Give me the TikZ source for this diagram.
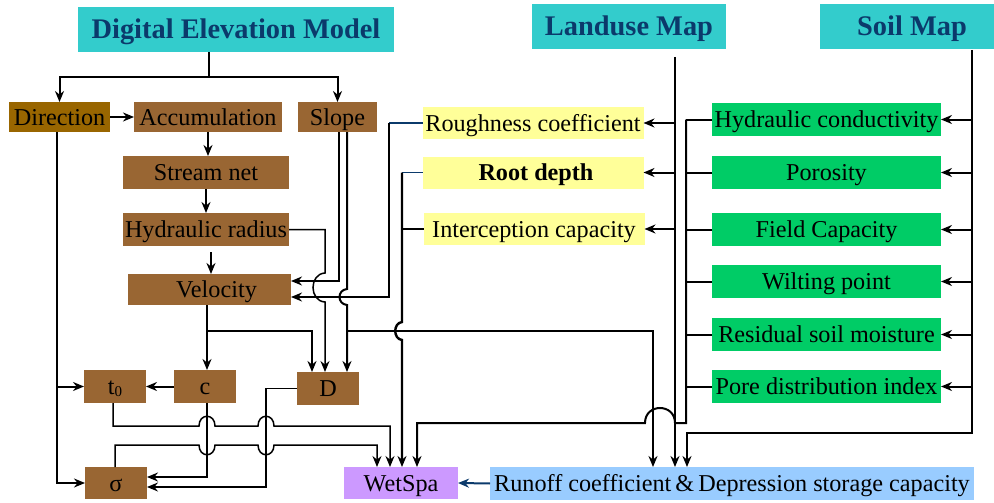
\documentclass[tikz,border=0pt]{standalone}
\usepackage{fontspec}
\setmainfont{Liberation Serif}
\usetikzlibrary{arrows.meta,calc}
\definecolor{teal1}{HTML}{33CCCC}
\definecolor{navy}{HTML}{0B3A6B}
\definecolor{brownA}{HTML}{996633}
\definecolor{brownB}{HTML}{996600}
\definecolor{yel}{HTML}{FFFF99}
\definecolor{grn}{HTML}{00CC66}
\definecolor{pur}{HTML}{CC99FF}
\definecolor{lblue}{HTML}{99CCFF}
\begin{document}
\begin{tikzpicture}[x=1pt,y=-1pt,
  box/.style={rectangle, inner sep=0pt, outer sep=0pt, text=black,
    font=\fontsize{24.2}{25}\selectfont, text height=16.5pt, text depth=0pt},
  ttl/.style={box, fill=teal1, text=navy, font=\fontsize{28.4}{30}\selectfont\bfseries,
    text height=19pt, minimum height=45pt},
  brn/.style={box, fill=brownA},
  yb/.style={box, fill=yel, minimum width=221pt, minimum height=32pt},
  gb/.style={box, fill=grn, minimum width=229pt, minimum height=33pt},
  ln/.style={line width=2pt},
  thn/.style={line width=1.5pt},
  arr/.style={ln, -{Stealth[length=11pt,width=9pt]}},
  arrT/.style={thn, -{Stealth[length=11pt,width=9pt]}},
]
\useasboundingbox (0,0) rectangle (994,503);
% ---------- nodes ----------
\node[ttl, minimum width=316pt] (dem) at (236,29.5) {Digital Elevation Model};
\node[ttl, minimum width=194pt] (land) at (629,26.5) {Landuse Map};
\node[ttl, minimum width=174pt] (soil) at (907,26.5) {\hspace{10pt}Soil Map};
\node[box, fill=brownB, minimum width=101pt, minimum height=30pt] (dir) at (59.5,117) {Direction};
\node[brn, minimum width=148pt, minimum height=30pt] (acc) at (208,117) {Accumulation};
\node[brn, minimum width=79pt, minimum height=30pt] (slope) at (337.5,117) {Slope};
\node[brn, minimum width=166pt, minimum height=33pt] (stream) at (206,172.5) {Stream net};
\node[brn, minimum width=166pt, minimum height=33pt] (hyd) at (206,229.5) {Hydraulic radius};
\node[brn, minimum width=163pt, minimum height=31pt] (vel) at (209.5,289.5) {\hspace{14pt}Velocity};
\node[brn, minimum width=62pt, minimum height=33pt] (t0) at (115,386.5) {t{\fontsize{15}{15}\selectfont\raisebox{-1.5pt}{0}}};
\node[brn, minimum width=62pt, minimum height=33pt] (c) at (205,386.5) {c};
\node[brn, minimum width=62pt, minimum height=33pt] (D) at (328,388.5) {D};
\node[brn, minimum width=62pt, minimum height=32pt] (sigma) at (116,483) {σ};
\node[box, fill=pur, minimum width=114pt, minimum height=32pt] (wet) at (401,483) {WetSpa};
\node[box, fill=lblue, minimum width=484pt, minimum height=33pt] (run) at (732,483.5) {Runoff coefficient\,\&\,Depression storage capacity};
\node[yb] (rough) at (533,123) {Roughness coefficient};
\node[yb] (root) at (533,172.5) {\hspace{6pt}\bfseries Root depth};
\node[yb] (inter) at (534,229) {Interception capacity};
\node[gb] (hc) at (826.5,119.5) {Hydraulic conductivity};
\node[gb] (por) at (826.5,172.5) {Porosity};
\node[gb] (fc) at (826.5,229.5) {Field Capacity};
\node[gb] (wp) at (826.5,281.5) {Wilting point};
\node[gb] (rsm) at (826.5,334.5) {Residual soil moisture};
\node[gb] (pdi) at (826.5,386.5) {Pore distribution index};
% ---------- lanes ----------
\coordinate (j0) at (209,77);
\coordinate (hv) at (211,252);
\coordinate (xh) at (325,0);
\coordinate (xs1) at (339,0);
\coordinate (xs2) at (347,0);
\coordinate (xq) at (389,0);
\coordinate (xd) at (402,0);
\coordinate (xr) at (653,0);
\coordinate (xl) at (675,0);
\coordinate (xg) at (686,0);
\coordinate (xsd) at (687,0);
\coordinate (xso) at (972,0);
\coordinate (xv) at (207,0);
\coordinate (xvd) at (312,0);
\coordinate (xdir) at (57,0);
\coordinate (xt) at (113,0);
\coordinate (xsg) at (115,0);
\coordinate (xD) at (266,0);
\coordinate (xw1) at (377,0);
\coordinate (xw2) at (390,0);
\coordinate (xw4) at (417,0);
\coordinate (ya) at (0,281);
\coordinate (yb) at (0,297);
\coordinate (yc) at (0,331);
\coordinate (ys) at (0,433);
\coordinate (yg) at (0,423);
\coordinate (yc1) at (0,477);
\coordinate (yd1) at (0,487);
\coordinate (l0) at (675,57);
\coordinate (s0) at (972,50);
% ---------- DEM ----------
\draw[ln] (dem.south -| j0) -- (j0);
\draw[arr] (j0) -| (dir.north);
\draw[arr] (j0) -| (slope.north);
\draw[arr] (dir) -- (acc);
\draw[arr] (acc.south) -- (acc.south |- stream.north);
\draw[arr] (stream.south) -- (stream.south |- hyd.north);
\draw[arr] (hv) -- (hv |- vel.north);
% hydraulic radius -> D
\draw[arrT] (hyd.east) -| (325,273) .. controls (309,274) and (309,301) .. (325,302) -- (xh |- D.north);
% slope -> velocity, slope -> D, slope -> runoff
\draw[arr] (xs1 |- slope.south) -- (xs1 |- ya) -- (vel.east |- ya);
\draw[arr] (xs2 |- slope.south) -- (347,289) .. controls (337,290) and (337,304) .. (347,305) -- (xs2 |- D.north);
\draw[arr] (xs2 |- yc) -- (xr |- yc) -- (xr |- run.north);
% roughness -> velocity
\draw[thn, navy] (rough.west) -- (xq |- rough.west);
\draw[arrT] (xq |- rough.west) -- (xq |- yb) -- (vel.east |- yb);
% root depth / interception -> WetSpa
\draw[thn, navy] (root.west) -- (xd |- root.west);
\draw[ln] (inter.west) -- (xd |- inter.west);
\draw[arr, line width=2.4pt] (xd |- root.west) -- (402,322) .. controls (393,323) and (393,339) .. (402,340) -- (xd |- wet.north);
% landuse
\draw[arr] (l0) -- (xl |- run.north);
\draw[arr] (xl |- rough.east) -- (rough.east);
\draw[arr] (xl |- root.east) -- (root.east);
\draw[arr] (xl |- inter.east) -- (inter.east);
% soil
\draw[arr, line width=2.4pt] (s0) -- (xso |- ys) -- (xsd |- ys) -- (xsd |- run.north);
\foreach \n in {hc,por,fc,wp,rsm,pdi}{
  \draw[arr] (xso |- \n.east) -- (\n.east);
  \draw[ln] (\n.west) -- (xg |- \n.west);
}
\draw[arr] (xg |- hc.west) -- (xg |- yg) -- (xl |- yg) .. controls (675,403) and (645,403) .. (645,423) -- (xw4 |- yg) -- (xw4 |- wet.north);
% velocity -> c, D
\draw[arr] (xv |- vel.south) -- (xv |- c.north);
\draw[arr] (xv |- yc) -- (xvd |- yc) -- (xvd |- D.north);
\draw[arr] (c.west) -- (t0.east);
% direction -> t0, sigma
\draw[arr] (xdir |- dir.south) -- (xdir |- sigma.west) -- (sigma.west);
\draw[arr] (xdir |- t0.west) -- (t0.west);
% t0 -> WetSpa
\draw[arrT] (xt |- t0.south) -- (113,426) -- (199,426) .. controls (199,413) and (215,413) .. (215,426)
  -- (258,426) .. controls (258,413) and (274,413) .. (274,426) -- (390,426) -- (xw2 |- wet.north);
% sigma -> WetSpa
\draw[arrT] (xsg |- sigma.north) -- (115,445) -- (199,445) .. controls (199,458) and (215,458) .. (215,445)
  -- (258,445) .. controls (258,458) and (274,458) .. (274,445) -- (377,445) -- (xw1 |- wet.north);
% c -> sigma, D -> sigma
\draw[arrT] (xv |- c.south) -- (xv |- yc1) -- (sigma.east |- yc1);
\draw[arrT] (D.west) -- (xD |- D.west) -- (xD |- yd1) -- (sigma.east |- yd1);
% runoff -> WetSpa
\draw[arr, navy] (run.west) -- (wet.east);
\end{tikzpicture}
\end{document}
